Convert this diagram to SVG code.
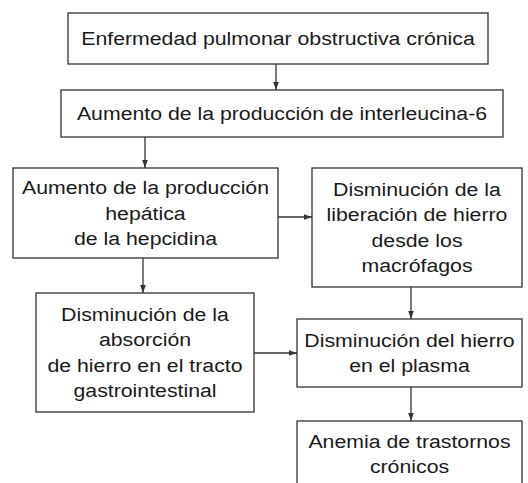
<svg xmlns="http://www.w3.org/2000/svg" width="528" height="483" viewBox="0 0 528 483">
<defs>
<style>
.box{fill:#fff;stroke:#333;stroke-width:1.3}
.t{font-family:"Liberation Sans",Arial,sans-serif;font-size:19px;fill:#1a1a1a;text-anchor:middle}
.c{stroke:#333;stroke-width:1.3;fill:none;marker-end:url(#ah)}
</style>
<marker id="ah" viewBox="0 0 10 10" refX="10" refY="5" markerWidth="8" markerHeight="8" markerUnits="userSpaceOnUse" orient="auto">
<path d="M0,1.5 L10,5 L0,8.5 Z" fill="#333"/>
</marker>
</defs>
<rect width="528" height="483" fill="#fff"/>
<g id="connectors">
<line class="c" x1="276" y1="64" x2="276" y2="90"/>
<line class="c" x1="145" y1="137" x2="145" y2="168"/>
<line class="c" x1="278" y1="217" x2="312" y2="217"/>
<line class="c" x1="143" y1="258" x2="143" y2="293"/>
<line class="c" x1="411" y1="287" x2="411" y2="319"/>
<line class="c" x1="254" y1="353" x2="297" y2="353"/>
<line class="c" x1="411" y1="387" x2="411" y2="421"/>
</g>
<g id="n1">
<rect class="box" x="68" y="13" width="420" height="51"/>
<text class="t" transform="translate(278,45) scale(1.12,1)">Enfermedad pulmonar obstructiva crónica</text>
</g>
<g id="n2">
<rect class="box" x="61" y="90" width="442" height="47"/>
<text class="t" transform="translate(282,120) scale(1.12,1)">Aumento de la producción de interleucina-6</text>
</g>
<g id="n3">
<rect class="box" x="13" y="168" width="265" height="90"/>
<text class="t" transform="translate(145.5,194) scale(1.12,1)">Aumento de la producción</text>
<text class="t" transform="translate(145.5,219.5) scale(1.12,1)">hepática</text>
<text class="t" transform="translate(145.5,245) scale(1.12,1)">de la hepcidina</text>
</g>
<g id="n4">
<rect class="box" x="312" y="168" width="210" height="119"/>
<text class="t" transform="translate(417,195.5) scale(1.12,1)">Disminución de la</text>
<text class="t" transform="translate(417,221) scale(1.12,1)">liberación de hierro</text>
<text class="t" transform="translate(417,246.5) scale(1.12,1)">desde los</text>
<text class="t" transform="translate(417,272) scale(1.12,1)">macrófagos</text>
</g>
<g id="n5">
<rect class="box" x="36" y="293" width="218" height="119"/>
<text class="t" transform="translate(145,320.5) scale(1.12,1)">Disminución de la</text>
<text class="t" transform="translate(145,346) scale(1.12,1)">absorción</text>
<text class="t" transform="translate(145,371.5) scale(1.12,1)">de hierro en el tracto</text>
<text class="t" transform="translate(145,397) scale(1.12,1)">gastrointestinal</text>
</g>
<g id="n6">
<rect class="box" x="297" y="319" width="225" height="68"/>
<text class="t" transform="translate(409.5,346.5) scale(1.12,1)">Disminución del hierro</text>
<text class="t" transform="translate(409.5,372) scale(1.12,1)">en el plasma</text>
</g>
<g id="n7">
<rect class="box" x="297" y="421" width="225" height="80"/>
<text class="t" transform="translate(409.5,447.5) scale(1.12,1)">Anemia de trastornos</text>
<text class="t" transform="translate(409.5,473) scale(1.12,1)">crónicos</text>
</g>
</svg>
